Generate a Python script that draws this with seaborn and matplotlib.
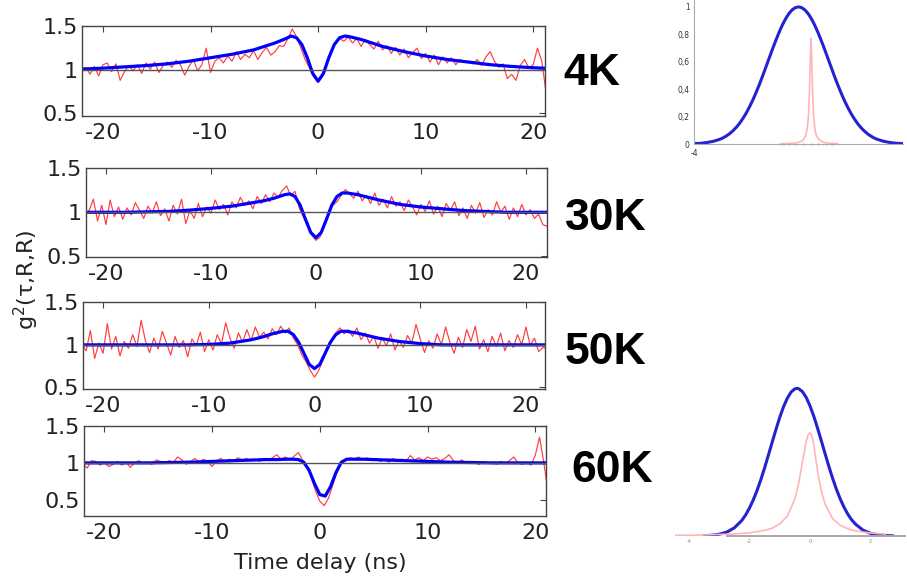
import numpy as np
import matplotlib
matplotlib.use("Agg")
import matplotlib.pyplot as plt
import seaborn as sns

# ---- data ----
# measured g2 traces (red), sampled every 0.4 ns from -22 to 22 ns
t_ns = np.round(np.arange(-22.0, 22.01, 0.4), 1)

red_4k = [0.97, 1.03, 0.95, 1.04, 0.93, 1.06, 1.08, 0.98, 1.07, 0.88,
          0.98, 1.05, 0.99, 1.06, 0.96, 1.08, 1.01, 1.09, 0.97, 1.05,
          1.09, 1.03, 1.11, 1.06, 0.94, 1.04, 1.12, 0.99, 1.06, 1.25,
          0.97, 1.10, 1.14, 1.08, 1.16, 1.10, 1.21, 1.12, 1.18, 1.14,
          1.22, 1.12, 1.20, 1.26, 1.17, 1.21, 1.28, 1.27, 1.36, 1.47,
          1.38, 1.25, 1.12, 1.02, 0.92, 0.86, 0.92, 1.06, 1.22, 1.30,
          1.36, 1.33, 1.38, 1.31, 1.36, 1.27, 1.35, 1.29, 1.24, 1.33,
          1.23, 1.28, 1.19, 1.26, 1.17, 1.24, 1.14, 1.20, 1.25, 1.13,
          1.19, 1.09, 1.17, 1.06, 1.15, 1.08, 1.14, 1.06, 1.12, 1.09,
          1.10, 1.07, 1.12, 1.05, 1.15, 1.21, 1.10, 1.03, 1.07, 0.90,
          0.95, 0.88, 1.05, 1.12, 1.02, 1.06, 1.25, 1.10, 0.74, 0.70,
          0.70]

red_30k = [0.98, 1.02, 1.15, 0.90, 1.08, 0.86, 1.14, 0.95, 1.06, 0.92,
           1.05, 0.97, 1.11, 1.02, 0.93, 1.07, 0.99, 1.12, 0.96, 1.04,
           0.90, 1.08, 0.98, 1.15, 0.87, 1.02, 0.93, 1.10, 0.95, 1.06,
           0.99, 1.14, 1.03, 1.09, 0.97, 1.12, 1.05, 1.17, 1.08, 1.13,
           1.04, 1.18, 1.10, 1.20, 1.12, 1.22, 1.17, 1.25, 1.30, 1.19,
           1.24, 1.05, 0.95, 0.84, 0.74, 0.68, 0.72, 0.85, 0.97, 1.08,
           1.12, 1.19, 1.26, 1.21, 1.16, 1.24, 1.13, 1.19, 1.10, 1.22,
           1.08, 1.15, 1.05, 1.18, 1.07, 1.12, 1.02, 1.14, 1.06, 0.97,
           1.09, 1.01, 1.13, 0.98, 1.07, 0.95, 1.10, 1.02, 1.12, 0.96,
           1.05, 0.93, 1.08, 0.99, 1.11, 0.94, 1.03, 0.97, 1.12, 1.00,
           1.07, 0.92, 1.05, 0.95, 1.09, 0.97, 1.03, 0.93, 0.98, 0.86,
           0.84]

red_50k = [1.00, 0.93, 1.17, 0.84, 1.02, 0.90, 1.25, 0.95, 1.10, 0.87,
           1.04, 0.96, 1.12, 0.98, 1.29, 1.05, 0.91, 1.08, 0.95, 1.16,
           1.02, 0.88, 1.10, 0.97, 1.05, 0.86, 1.07, 0.99, 1.15, 0.92,
           1.06, 0.94, 1.12, 1.01, 1.26, 1.08, 0.96, 1.14, 1.03, 1.18,
           1.05, 1.21, 1.09, 1.15, 1.07, 1.19, 1.12, 1.22, 1.14, 1.20,
           1.08, 1.00, 0.88, 0.80, 0.70, 0.62, 0.70, 0.82, 0.95, 1.05,
           1.14, 1.20, 1.13, 1.18, 1.10, 1.20, 1.06, 1.14, 1.02, 1.10,
           0.96, 1.08, 0.99, 1.13, 0.94, 1.05, 0.97, 1.11, 1.02, 1.24,
           1.07, 0.91, 1.05, 0.96, 1.13, 1.00, 1.21, 1.03, 0.90, 1.09,
           0.97, 1.18, 1.04, 1.22, 0.95, 1.06, 0.92, 1.10, 0.98, 1.14,
           0.93, 1.05, 0.97, 1.12, 1.00, 1.21, 0.99, 1.08, 0.92, 0.97,
           0.95]

red_60k = [0.98, 0.93, 1.03, 1.02, 0.97, 1.01, 0.95, 0.98, 1.02, 0.97,
           1.01, 0.94, 1.00, 1.03, 0.99, 1.01, 0.98, 1.04, 1.02, 0.99,
           1.03, 1.01, 1.08, 1.04, 0.98, 1.02, 1.06, 1.01, 1.05, 1.02,
           0.95, 1.03, 1.06, 1.02, 1.05, 1.03, 1.07, 1.04, 1.06, 1.03,
           1.05, 1.02, 1.06, 1.04, 1.07, 1.11, 1.05, 1.08, 1.04, 1.09,
           1.14, 1.04, 0.95, 0.80, 0.62, 0.48, 0.42, 0.52, 0.70, 0.88,
           1.00, 1.03, 1.07, 1.05, 1.08, 1.04, 1.07, 1.03, 1.06, 1.02,
           1.04, 1.01, 1.06, 1.03, 1.05, 1.02, 1.10, 1.04, 1.07, 1.03,
           1.08, 1.05, 1.07, 1.03, 1.06, 1.11, 1.03, 1.01, 1.04, 0.99,
           1.02, 1.00, 0.98, 1.02, 0.99, 1.01, 0.98, 1.02, 0.99, 1.03,
           1.08, 1.00, 0.98, 1.01, 0.97, 1.10, 1.35, 1.00, 0.60, 0.60,
           0.60]

# fitted curves (blue)
fit_t = [-22, -20, -18, -16, -14, -12, -10, -8, -6, -5, -4, -3, -2.5, -2, -1.5, -1, -0.5,
         0, 0.5, 1, 1.5, 2, 2.5, 3, 4, 5, 6, 8, 10, 12, 14, 16, 18, 20, 22]

fit_4k = [1.01, 1.02, 1.035, 1.05, 1.07, 1.10, 1.14, 1.18, 1.23, 1.27, 1.31, 1.36, 1.39,
          1.37, 1.29, 1.14, 0.96, 0.87, 0.96, 1.14, 1.29, 1.37, 1.39, 1.38, 1.35, 1.31,
          1.27, 1.21, 1.16, 1.12, 1.09, 1.06, 1.04, 1.025, 1.015]
fit_30k = [1.0, 1.0, 1.0, 1.005, 1.01, 1.025, 1.045, 1.07, 1.11, 1.13, 1.16, 1.20, 1.21,
           1.18, 1.08, 0.92, 0.77, 0.71, 0.77, 0.92, 1.08, 1.18, 1.22, 1.22, 1.20, 1.17,
           1.14, 1.09, 1.06, 1.04, 1.02, 1.01, 1.0, 1.0, 1.0]
fit_50k = [1.0, 1.0, 1.0, 1.0, 1.0, 1.0, 1.005, 1.02, 1.06, 1.09, 1.13, 1.16, 1.16,
           1.12, 1.03, 0.90, 0.77, 0.72, 0.77, 0.90, 1.03, 1.12, 1.16, 1.16, 1.14, 1.11,
           1.08, 1.04, 1.015, 1.0, 1.0, 1.0, 1.0, 1.0, 1.0]
fit_60k = [1.0, 1.0, 1.0, 1.0, 1.005, 1.01, 1.02, 1.03, 1.04, 1.045, 1.045, 1.05, 1.05,
           1.045, 1.01, 0.90, 0.72, 0.57, 0.55, 0.68, 0.87, 1.01, 1.05, 1.05, 1.05, 1.045,
           1.04, 1.03, 1.02, 1.01, 1.005, 1.0, 1.0, 1.0, 1.0]

temps = ["4K", "30K", "50K", "60K"]

# spectra insets (4K on top, 60K at bottom)
top_x = [-4.0, -3.75, -3.5, -3.25, -3.0, -2.875, -2.75, -2.625, -2.5, -2.375, -2.25,
         -2.125, -2.0, -1.875, -1.75, -1.625, -1.5, -1.375, -1.25, -1.125, -1.0, -0.875,
         -0.75, -0.625, -0.5, -0.375, -0.25, -0.125, 0.0, 0.125, 0.25, 0.375, 0.5, 0.625,
         0.75, 0.875, 1.0, 1.125, 1.25, 1.375, 1.5, 1.625, 1.75, 1.875, 2.0, 2.125, 2.25,
         2.375, 2.5, 2.625, 2.75, 2.875, 3.0, 3.25, 3.5, 3.75, 4.0]
top_blue = [0.003, 0.005, 0.011, 0.020, 0.035, 0.046, 0.060, 0.077, 0.098, 0.123, 0.152,
            0.187, 0.226, 0.271, 0.320, 0.375, 0.433, 0.495, 0.560, 0.625, 0.690, 0.752,
            0.811, 0.865, 0.911, 0.949, 0.977, 0.994, 1.0, 0.994, 0.977, 0.949, 0.911,
            0.865, 0.811, 0.752, 0.690, 0.625, 0.560, 0.495, 0.433, 0.375, 0.320, 0.271,
            0.226, 0.187, 0.152, 0.123, 0.098, 0.077, 0.060, 0.046, 0.035, 0.020, 0.011,
            0.005, 0.003]
top_pink_x = [-0.7, -0.5, -0.3, -0.2, -0.1, 0.0, 0.1, 0.2, 0.28, 0.33, 0.38, 0.42, 0.45,
              0.48, 0.51, 0.54, 0.58, 0.63, 0.68, 0.78, 0.88, 1.0, 1.2, 1.5]
top_pink = [0.002, 0.003, 0.0045, 0.006, 0.008, 0.012, 0.019, 0.034, 0.064, 0.106, 0.204,
            0.385, 0.616, 0.77, 0.616, 0.385, 0.204, 0.106, 0.064, 0.034, 0.019, 0.010,
            0.005, 0.003]

bot_x = [-3.5, -3.25, -3.0, -2.75, -2.5, -2.25, -2.125, -2.0, -1.875, -1.75, -1.625,
         -1.5, -1.375, -1.25, -1.125, -1.0, -0.875, -0.75, -0.625, -0.5, -0.43, -0.375,
         -0.25, -0.125, 0.0, 0.125, 0.25, 0.375, 0.5, 0.625, 0.75, 0.875, 1.0, 1.125,
         1.25, 1.375, 1.5, 1.75, 2.0, 2.25, 2.5, 2.75]
bot_blue = [0.002, 0.005, 0.012, 0.026, 0.055, 0.106, 0.143, 0.189, 0.244, 0.308, 0.381,
            0.461, 0.547, 0.635, 0.721, 0.803, 0.875, 0.933, 0.975, 0.997, 1.0, 0.998,
            0.978, 0.939, 0.882, 0.812, 0.731, 0.645, 0.557, 0.471, 0.390, 0.316, 0.251,
            0.195, 0.148, 0.110, 0.081, 0.040, 0.018, 0.008, 0.003, 0.001]
bot_pink_x = [-4.5, -3.5, -2.5, -2.0, -1.5, -1.25, -1.0, -0.75, -0.5, -0.375, -0.25,
              -0.125, -0.0625, 0.0, 0.0625, 0.125, 0.25, 0.375, 0.5, 0.75, 1.0, 1.25, 1.5,
              2.0, 2.5]
bot_pink = [0.004, 0.007, 0.014, 0.021, 0.038, 0.053, 0.081, 0.134, 0.250, 0.355, 0.500,
            0.640, 0.685, 0.700, 0.680, 0.620, 0.440, 0.305, 0.215, 0.117, 0.073, 0.049,
            0.035, 0.020, 0.013]

for arr in (red_4k, red_30k, red_50k, red_60k):
    assert len(arr) == len(t_ns)

# ---- layout (pixels of a 907x579 canvas) ----
W, H = 907, 579


def px_rect(left, top, right, bottom):
    return [left / W, 1 - bottom / H, (right - left) / W, (bottom - top) / H]


sns.set_theme(style="white")
plt.rcParams["font.family"] = ["DejaVu Sans"]
plt.rcParams["axes.unicode_minus"] = False

fig = plt.figure(figsize=(W / 100, H / 100), dpi=100, facecolor="white")

main_panels = [
    (red_4k, fit_4k, (-21.95, 21.1), (0.47, 1.505), (82, 26, 545, 116), (563, 85)),
    (red_30k, fit_30k, (-21.9, 22.0), (0.49, 1.505), (86, 168, 547, 257), (565, 230)),
    (red_50k, fit_50k, (-21.9, 21.8), (0.48, 1.505), (83, 302, 545, 389), (565, 364)),
    (red_60k, fit_60k, (-21.9, 21.0), (0.28, 1.5), (84, 426, 546, 516), (571, 482)),
]

for (red, fit, xl, yl, box, lab), temp in zip(main_panels, temps):
    ax = fig.add_axes(px_rect(*box))
    sns.lineplot(x=t_ns, y=red, ax=ax, color="#ff3d3d", linewidth=0.85,
                 estimator=None, sort=False)
    sns.lineplot(x=fit_t, y=fit, ax=ax, color="#0000ff", linewidth=2.3,
                 estimator=None, sort=False)
    ax.axhline(1, color="#555555", linewidth=1.0, zorder=3)
    ax.set_xlim(*xl)
    ax.set_ylim(*yl)
    ax.set_xticks([-20, -10, 0, 10, 20])
    ax.set_xticklabels(["-20", "-10", "0", "10", "20"])
    ax.set_yticks([0.5, 1, 1.5])
    ax.set_yticklabels(["0.5", "1", "1.5"])
    ax.tick_params(direction="in", length=4, width=0.8, top=True, right=True,
                   labelsize=16, colors="#444444", labelcolor="#222222")
    ax.tick_params(axis="x", pad=5)
    ax.tick_params(axis="y", pad=3)
    for s in ax.spines.values():
        s.set_color("#444444")
        s.set_linewidth(1.0)
    ax.set_xlabel("")
    ax.set_ylabel("")
    fig.text(lab[0] / W, 1 - lab[1] / H, temp, ha="left", va="baseline",
             fontsize=32, fontweight="bold", family="Liberation Sans", color="black")

fig.text(26 / W, 1 - 280 / H, r"g$^2$(τ,R,R)", rotation=90, ha="center", va="center",
         fontsize=16, color="#222222")
fig.text(320 / W, 1 - 563 / H, "Time delay (ns)", ha="center", va="center",
         fontsize=16, color="#222222")

# ---- top-right inset ----
ax_a = fig.add_axes(px_rect(694, 0, 903, 144))
sns.lineplot(x=top_x, y=top_blue, ax=ax_a, color="#2323d2", linewidth=2.2,
             estimator=None, sort=False)
sns.lineplot(x=top_pink_x, y=top_pink, ax=ax_a, color="#ffb5b5", linewidth=1.2,
             estimator=None, sort=False)
ax_a.set_xlim(-4, 3.96)
ax_a.set_ylim(0, 1.05)
ax_a.set_yticks([0, 0.2, 0.4, 0.6, 0.8, 1.0])
ax_a.set_yticklabels(["0", "0,2", "0,4", "0,6", "0,8", "1"])
ax_a.set_xticks([-4, -2, 0, 2, 4])
ax_a.set_xticklabels(["-4", "", "", "", ""])
ax_a.set_xticks([-0.63, -0.36, -0.10, 0.17, 0.48, 0.74, 1.05, 1.28], minor=True)
ax_a.tick_params(axis="both", which="major", labelsize=5.5, length=2.5, width=0.6,
                 colors="#999999", labelcolor="#333333", pad=2, direction="inout")
ax_a.tick_params(axis="x", which="minor", length=3, width=0.6, colors="#ffc0c0",
                 direction="inout", bottom=True)
ax_a.patch.set_alpha(0)
for side in ("top", "right"):
    ax_a.spines[side].set_visible(False)
for side in ("left", "bottom"):
    ax_a.spines[side].set_color("#aaaaaa")
    ax_a.spines[side].set_linewidth(0.8)
ax_a.set_xlabel("")
ax_a.set_ylabel("")

# ---- bottom-right inset ----
ax_b = fig.add_axes(px_rect(675, 381, 905, 536))
sns.lineplot(x=bot_x, y=bot_blue, ax=ax_b, color="#2323d2", linewidth=2.2,
             estimator=None, sort=False)
sns.lineplot(x=bot_pink_x, y=bot_pink, ax=ax_b, color="#ffb5b5", linewidth=1.2,
             estimator=None, sort=False)
ax_b.axhline(0, color="#f0d8d8", linewidth=0.8, zorder=0)
ax_b.set_xlim(-4.46, 3.14)
ax_b.set_ylim(0, 1.05)
ax_b.set_yticks([])
ax_b.set_xticks([-4, -2, 0, 2])
ax_b.set_xticklabels(["-4", "-2", "0", "2"])
ax_b.tick_params(axis="x", labelsize=3.5, length=2, width=0.5, colors="#aaaaaa",
                 labelcolor="#888888", pad=1.5, direction="inout")
ax_b.patch.set_alpha(0)
for side in ("top", "right", "left"):
    ax_b.spines[side].set_visible(False)
ax_b.spines["bottom"].set_bounds(-2.74, 3.14)
ax_b.spines["bottom"].set_color("#a8a8a8")
ax_b.spines["bottom"].set_linewidth(1.4)
ax_b.set_xlabel("")
ax_b.set_ylabel("")

fig.savefig("out.png", dpi=100, facecolor="white")
